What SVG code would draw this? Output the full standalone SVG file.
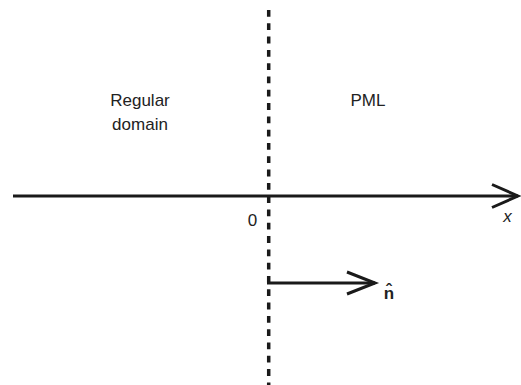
<svg xmlns="http://www.w3.org/2000/svg" width="521" height="385" viewBox="0 0 521 385">
  <style>
    .label { font-family: "Liberation Sans", Arial, sans-serif; font-size: 17px; fill: #222; }
    .axis { stroke: #1a1a1a; stroke-width: 3; fill: none; }
    .head { stroke: #1a1a1a; stroke-width: 3; fill: none; stroke-linejoin: miter; }
    .iface { stroke: #1a1a1a; stroke-width: 3.5; stroke-dasharray: 6.8 6.5; fill: none; }
  </style>
  <rect width="521" height="385" fill="#fff"/>

  <!-- interface between regular domain and PML -->
  <g id="interface">
    <line class="iface" x1="268.7" y1="10" x2="268.7" y2="385"/>
  </g>

  <g id="regular-domain">
    <text class="label" x="140" y="106" text-anchor="middle">Regular</text>
    <text class="label" x="140" y="130" text-anchor="middle">domain</text>
  </g>

  <g id="pml">
    <text class="label" x="368" y="106" text-anchor="middle">PML</text>
  </g>

  <g id="connectors">
    <!-- x axis -->
    <line class="axis" x1="13" y1="196" x2="518" y2="196"/>
    <polyline class="head" points="492,184.5 518,196 492,207.5"/>
    <!-- outward normal -->
    <line class="axis" x1="267" y1="283" x2="375" y2="283"/>
    <polyline class="head" points="347,272 375,283 347,294"/>
  </g>

  <g id="origin">
    <text class="label" x="252.5" y="226" text-anchor="middle">0</text>
  </g>
  <g id="x-label">
    <text class="label" x="507.5" y="222" text-anchor="middle" font-style="italic">x</text>
  </g>
  <g id="normal-label">
    <text class="label" x="389" y="299" text-anchor="middle" font-weight="bold" font-size="15">n̂</text>
  </g>
</svg>
